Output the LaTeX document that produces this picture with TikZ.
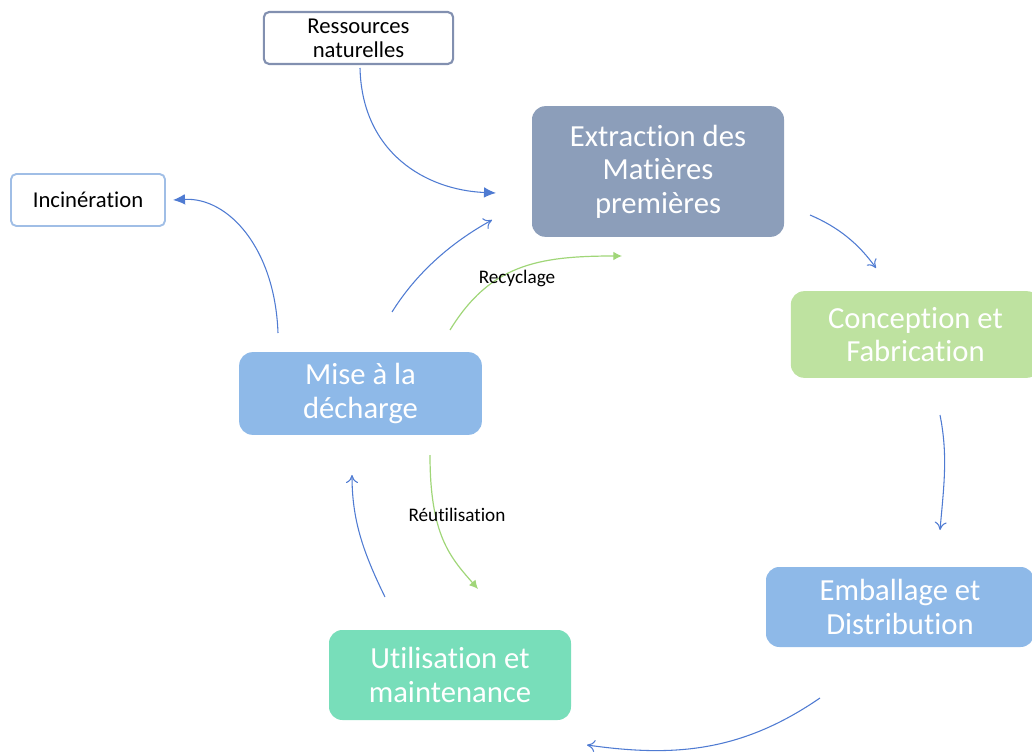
\documentclass[tikz,border=0pt]{standalone}
\usepackage{fontspec}
\setmainfont{Carlito}[Ligatures={NoCommon}]
\usetikzlibrary{arrows.meta}

\definecolor{extrFill}{RGB}{140,158,186}
\definecolor{concFill}{RGB}{190,226,160}
\definecolor{bluFill}{RGB}{142,185,232}
\definecolor{utilFill}{RGB}{120,222,186}
\definecolor{arrBlue}{RGB}{79,123,210}
\definecolor{arrGreen}{RGB}{160,214,120}
\definecolor{resDraw}{RGB}{130,144,176}
\definecolor{incDraw}{RGB}{160,190,230}

\tikzset{
    stage/.style={rectangle, rounded corners=10pt, text=white, align=center,
        font=\fontsize{23}{25}\selectfont, inner sep=0pt},
    source/.style={rectangle, rounded corners=4pt, fill=white, align=center,
        font=\fontsize{17}{18}\selectfont, inner sep=0pt},
    flow/.style={arrBlue, line width=0.8pt, -{To[length=6pt,width=9pt]}},
    flowfill/.style={arrBlue, line width=0.8pt, -{Latex[length=9pt,width=8pt]}},
    loop/.style={arrGreen, line width=0.9pt, -{Latex[length=6.5pt,width=6.5pt]}},
    tag/.style={font=\fontsize{14.4}{16}\selectfont, inner sep=1pt}
}

\begin{document}
\begin{tikzpicture}[x=0.75pt, y=-0.75pt]
    \useasboundingbox (0,0) rectangle (1032,756);
    % boxes
    \node[stage, fill=extrFill, minimum width=189pt, minimum height=98pt] (extr) at (658,171.5) {Extraction des\\Matières\\premières};
    \node[stage, fill=concFill, minimum width=187pt, minimum height=65pt] (conc) at (915.5,334.5) {Conception et\\Fabrication};
    \node[stage, fill=bluFill, minimum width=201pt, minimum height=60pt] (emba) at (900,607) {Emballage et\\Distribution};
    \node[stage, fill=utilFill, minimum width=181.5pt, minimum height=67.5pt] (util) at (450,675) {Utilisation et\\maintenance};
    \node[stage, fill=bluFill, minimum width=182pt, minimum height=62pt] (mise) at (360.5,393.5) {Mise à la\\décharge};
    \node[source, draw=resDraw, line width=1.6pt, minimum width=142pt, minimum height=39pt] (res) at (358.5,38) {Ressources\\naturelles};
    \node[source, draw=incDraw, line width=1.4pt, minimum width=115.5pt, minimum height=39pt] (inc) at (88,200) {Incinération};

    % arrow ends
    \coordinate (resOut) at (360,68);
    \coordinate (extrIn) at (496,193);
    \coordinate (miseUp) at (278,333);
    \coordinate (incIn) at (173,200);
    \coordinate (miseOut) at (392,312);
    \coordinate (extrIn2) at (492,220);
    \coordinate (extrOut) at (810,215);
    \coordinate (concIn) at (876,268);
    \coordinate (concOut) at (940,415);
    \coordinate (embaIn) at (940,530);
    \coordinate (embaOut) at (820,698);
    \coordinate (utilIn) at (587,745);
    \coordinate (utilOut) at (385,597);
    \coordinate (miseIn) at (352,475);
    \coordinate (recStart) at (450,330);
    \coordinate (recEnd) at (622,256);
    \coordinate (reuStart) at (430,455);
    \coordinate (reuEnd) at (478,589);

    % connectors
    \draw[flowfill] (resOut) .. controls +(2,85) and +(-70,-3) .. (extrIn);
    \draw[flowfill] (miseUp) .. controls +(-3,-85) and +(55,-3) .. (incIn);
    \draw[flow] (miseOut) .. controls +(25,-40) and +(-40,22) .. (extrIn2);
    \draw[flow] (extrOut) .. controls +(28,12) and +(-18,-25) .. (concIn);
    \draw[flow] (concOut) .. controls +(8,40) and +(4,-45) .. (embaIn);
    \draw[flow] (embaOut) .. controls +(-80,55) and +(85,12) .. (utilIn);
    \draw[flow] (utilOut) .. controls +(-22,-45) and +(0,45) .. (miseIn);
    \draw[loop] (recStart) .. controls +(40,-65) and +(-85,0) .. (recEnd);
    \draw[loop] (reuStart) .. controls +(0,80) and +(-28,-32) .. (reuEnd);

    % labels
    \node[tag] (recTag) at (517,278) {Recyclage};
    \node[tag] (reuTag) at (457,515) {Réutilisation};
\end{tikzpicture}
\end{document}
